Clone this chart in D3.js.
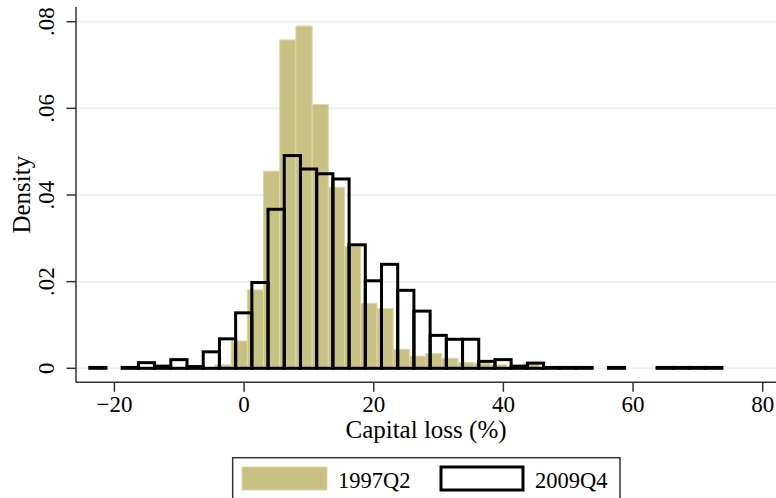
<!DOCTYPE html>
<html>
<head>
<meta charset="utf-8">
<script src="https://cdn.jsdelivr.net/npm/d3@7"></script>
<style>
  body { margin: 0; background: #fff; }
  text { font-family: "Liberation Serif", "Times New Roman", serif; fill: #000; }
</style>
</head>
<body>
<div class="histChart"></div>
<script>
// 1997Q2 bins: start -4.5, width 2.5
let earlyStart = -4.5;
let earlyWidth = 2.5;
let earlyDensity = [0.0008, 0.0063, 0.0181, 0.0455, 0.0758, 0.0790, 0.0609, 0.0418,
  0.0281, 0.0150, 0.0138, 0.0044, 0.0028, 0.0034, 0.0023, 0.0013, 0.0012, 0.0008,
  0.0003, 0.0010, 0.0003];

// 2009Q4 bins: start -23.8, width 2.5
let lateStart = -23.8;
let lateWidth = 2.5;
let lateDensity = [0.0002, 0, 0.0002, 0.0013, 0.0005, 0.0020, 0.0004, 0.0038, 0.0068,
  0.0128, 0.0198, 0.0367, 0.0491, 0.0460, 0.0449, 0.0437, 0.0285, 0.0202, 0.0240,
  0.0180, 0.0132, 0.0076, 0.0067, 0.0067, 0.0016, 0.0020, 0.0005, 0.0012, 0.0002,
  0.0002, 0.0002, 0, 0.0002, 0, 0, 0.0002, 0.0002, 0.0002, 0.0002];

let xTicks = [-20, 0, 20, 40, 60, 80];
let yTicks = [0, 0.02, 0.04, 0.06, 0.08];
let yTickLabels = ["0", ".02", ".04", ".06", ".08"];
let seriesNames = ["1997Q2", "2009Q4"];

let width = 776;
let height = 498;

let svg = d3.select(".histChart")
  .append("svg")
  .attr("width", width)
  .attr("height", height);

let x = d3.scaleLinear().domain([-20, 80]).range([114.4, 762.7]);
let y = d3.scaleLinear().domain([0, 0.08]).range([368.3, 21.7]);

let plotLeft = 76, plotRight = 776, plotTop = 7, plotBottom = 382.3;

function toBins(start, w, values) {
  return values.map(function(v, i) {
    return { x0: start + i * w, x1: start + (i + 1) * w, d: v };
  }).filter(function(b) { return b.d > 0; });
}

// gridlines
svg.selectAll(".grid")
  .data(yTicks)
  .enter().append("line")
  .attr("class", "grid")
  .attr("x1", plotLeft)
  .attr("x2", plotRight)
  .attr("y1", d => y(d))
  .attr("y2", d => y(d))
  .style("stroke", "#e8f0f2")
  .style("stroke-width", 1.5);

// 1997Q2 filled bars
svg.selectAll(".early")
  .data(toBins(earlyStart, earlyWidth, earlyDensity))
  .enter().append("rect")
  .attr("class", "early")
  .attr("x", d => x(d.x0))
  .attr("y", d => y(d.d))
  .attr("width", d => x(d.x1) - x(d.x0))
  .attr("height", d => y(0) - y(d.d))
  .style("fill", "#c8c183")
  .style("stroke", "#dcd8a8")
  .style("stroke-width", 1);

// 2009Q4 outlined bars
svg.selectAll(".late")
  .data(toBins(lateStart, lateWidth, lateDensity))
  .enter().append("rect")
  .attr("class", "late")
  .attr("x", d => x(d.x0))
  .attr("y", d => y(d.d))
  .attr("width", d => x(d.x1) - x(d.x0))
  .attr("height", d => y(0) - y(d.d))
  .style("fill", "none")
  .style("stroke", "#000")
  .style("stroke-width", 3);

// axes
let axisColor = "#333";
svg.append("line")
  .attr("x1", plotLeft).attr("x2", plotLeft)
  .attr("y1", plotTop).attr("y2", plotBottom)
  .style("stroke", axisColor).style("stroke-width", 1.5);
svg.append("line")
  .attr("x1", plotLeft).attr("x2", plotRight)
  .attr("y1", plotBottom).attr("y2", plotBottom)
  .style("stroke", axisColor).style("stroke-width", 1.5);

let xt = svg.selectAll(".xtick")
  .data(xTicks)
  .enter().append("g")
  .attr("class", "xtick")
  .attr("transform", d => "translate(" + x(d) + "," + plotBottom + ")");
xt.append("line")
  .attr("y1", 0).attr("y2", 9.5)
  .style("stroke", axisColor).style("stroke-width", 1.5);
xt.append("text")
  .attr("y", 30)
  .attr("text-anchor", "middle")
  .attr("font-size", 23)
  .text(d => d < 0 ? "\u2212" + Math.abs(d) : d);

let yt = svg.selectAll(".ytick")
  .data(yTicks)
  .enter().append("g")
  .attr("class", "ytick")
  .attr("transform", d => "translate(" + plotLeft + "," + y(d) + ")");
yt.append("line")
  .attr("x1", -9.5).attr("x2", 0)
  .style("stroke", axisColor).style("stroke-width", 1.5);
yt.append("text")
  .attr("transform", "translate(-22,0) rotate(-90)")
  .attr("text-anchor", "middle")
  .attr("font-size", 23)
  .text((d, i) => yTickLabels[i]);

// axis titles
svg.append("text")
  .attr("transform", "translate(30," + ((plotTop + plotBottom) / 2) + ") rotate(-90)")
  .attr("text-anchor", "middle")
  .attr("font-size", 25)
  .text("Density");

svg.append("text")
  .attr("x", (plotLeft + plotRight) / 2)
  .attr("y", 438)
  .attr("text-anchor", "middle")
  .attr("font-size", 25)
  .text("Capital loss (%)");

// legend
let legend = svg.append("g");
legend.append("rect")
  .attr("x", 232.7).attr("y", 457.7)
  .attr("width", 387.3).attr("height", 60)
  .style("fill", "#fff")
  .style("stroke", "#333")
  .style("stroke-width", 1.5);
legend.append("rect")
  .attr("x", 242).attr("y", 467)
  .attr("width", 85).attr("height", 23)
  .style("fill", "#c8c183")
  .style("stroke", "#dcd8a8")
  .style("stroke-width", 1);
legend.append("rect")
  .attr("x", 441).attr("y", 467)
  .attr("width", 82).attr("height", 23)
  .style("fill", "#fff")
  .style("stroke", "#000")
  .style("stroke-width", 3);
legend.selectAll(".ltext")
  .data(seriesNames)
  .enter().append("text")
  .attr("class", "ltext")
  .attr("x", (d, i) => i === 0 ? 338 : 535)
  .attr("y", 488)
  .attr("font-size", 22.5)
  .text(d => d);
</script>
</body>
</html>
